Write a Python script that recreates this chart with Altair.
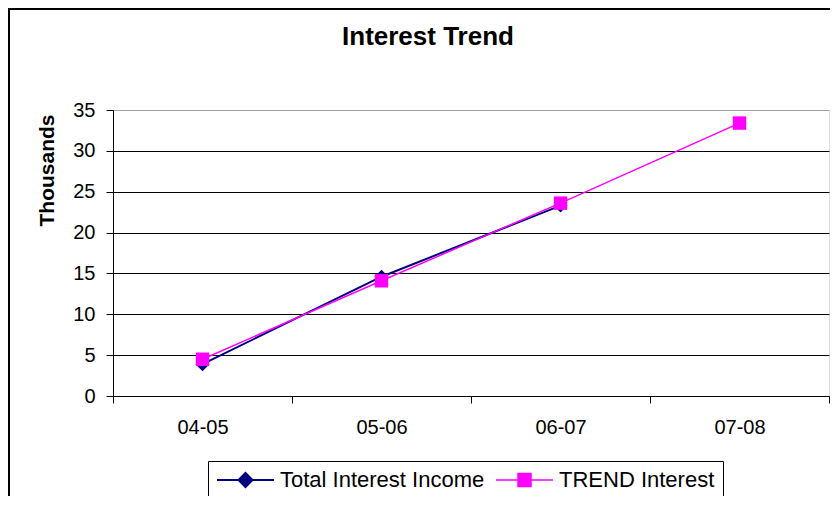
import altair as alt
import pandas as pd

periods = ["04-05", "05-06", "06-07", "07-08"]
total_interest = [3.9, 14.6, 23.3, None]
trend_interest = [4.5, 14.1, 23.6, 33.4]
series_names = ["Total Interest Income", "TREND Interest"]
series_colors = ["#000080", "#FF00FF"]
y_ticks = [0, 5, 10, 15, 20, 25, 30, 35]

rows = []
for p, v in zip(periods, total_interest):
    if v is not None:
        rows.append({"period": p, "value": v, "series": series_names[0]})
for p, v in zip(periods, trend_interest):
    if v is not None:
        rows.append({"period": p, "value": v, "series": series_names[1]})
df = pd.DataFrame(rows)

FONT = "Liberation Sans"

# legend glyphs: a line segment with the marker in the middle
PATH_DIAMOND = "M-1,0L1,0M0,-0.245L0.245,0L0,0.245L-0.245,0Z"
PATH_SQUARE = "M-1,0L1,0M-0.228,-0.228L0.228,-0.228L0.228,0.228L-0.228,0.228Z"

x_enc = alt.X(
    "period:N",
    sort=periods,
    scale=alt.Scale(type="band", domain=periods, paddingInner=0, paddingOuter=0),
    axis=alt.Axis(
        title=None, labelAngle=0, tickBand="extent", tickSize=7, labelPadding=14,
        labelFont=FONT, labelFontSize=20, labelColor="black",
        tickColor="black", domainColor="black", grid=False,
    ),
)
y_enc = alt.Y(
    "value:Q",
    scale=alt.Scale(domain=[0, 35], nice=False),
    axis=alt.Axis(
        values=y_ticks, title="Thousands", titleFont=FONT, titleFontSize=21,
        titleFontWeight="bold", titleColor="black", titleX=-60, titleY=60,
        titleAngle=270, titleAlign="center", titleBaseline="alphabetic",
        labelFont=FONT, labelFontSize=20, labelColor="black", labelPadding=11,
        tickSize=7, tickColor="black", domainColor="black",
        grid=True, gridWidth=1,
        gridColor=alt.condition("datum.value == 35", alt.value("#A0A0A0"), alt.value("black")),
    ),
)
color_scale = alt.Scale(domain=series_names, range=series_colors)
legend_def = alt.Legend(
    title=None, orient="none", legendX=95, legendY=351, direction="horizontal",
    strokeColor="black", fillColor="white", padding=8,
    symbolSize=3249, clipHeight=22, symbolStrokeWidth=1.5, symbolOpacity=1,
    labelFont=FONT, labelFontSize=22, labelColor="black", labelLimit=400,
    labelOffset=5, columnPadding=10,
)
color_enc = alt.Color("series:N", scale=color_scale, legend=legend_def)

base = alt.Chart(df)

legend_layer = base.transform_filter("false").mark_point(filled=True).encode(
    x=x_enc, y=y_enc,
    color=color_enc,
    stroke=alt.Stroke("series:N", scale=alt.Scale(domain=series_names, range=series_colors), legend=legend_def),
    shape=alt.Shape("series:N", scale=alt.Scale(domain=series_names, range=[PATH_DIAMOND, PATH_SQUARE]), legend=legend_def),
)
lines = base.mark_line().encode(
    x=x_enc, y=y_enc,
    color=color_enc,
    strokeWidth=alt.StrokeWidth("series:O", scale=alt.Scale(domain=series_names, range=[2, 1.5]), legend=None),
)
points_total = base.transform_filter(
    alt.datum.series == series_names[0]
).mark_point(filled=True, opacity=1, size=196, shape="diamond").encode(
    x=x_enc, y=y_enc, color=color_enc,
)
points_trend = base.transform_filter(
    alt.datum.series == series_names[1]
).mark_point(filled=True, opacity=1, size=180, shape="square").encode(
    x=x_enc, y=y_enc, color=color_enc,
)

frame = alt.Chart(alt.Data(values=[{"f": 1}])).mark_rect(
    fillOpacity=0, stroke="black", strokeWidth=2
).encode(x=alt.value(-104), x2=alt.value(900), y=alt.value(-101), y2=alt.value(900))

chart = alt.layer(legend_layer, frame, lines, points_total, points_trend).properties(
    width=716, height=286,
    padding={"left": 105, "top": 102, "right": 1, "bottom": 100},
    autosize=alt.AutoSizeParams(type="none"),
    title=alt.TitleParams(
        "Interest Trend", font=FONT, fontSize=26, fontWeight="bold", color="black",
        dx=-43, offset=-63, baseline="alphabetic",
    ),
).configure_view(fill="#C0C0C0", stroke="#808080", strokeWidth=1).configure(background="white")

chart.save("out.html", embed_options={"renderer": "svg", "actions": False})
